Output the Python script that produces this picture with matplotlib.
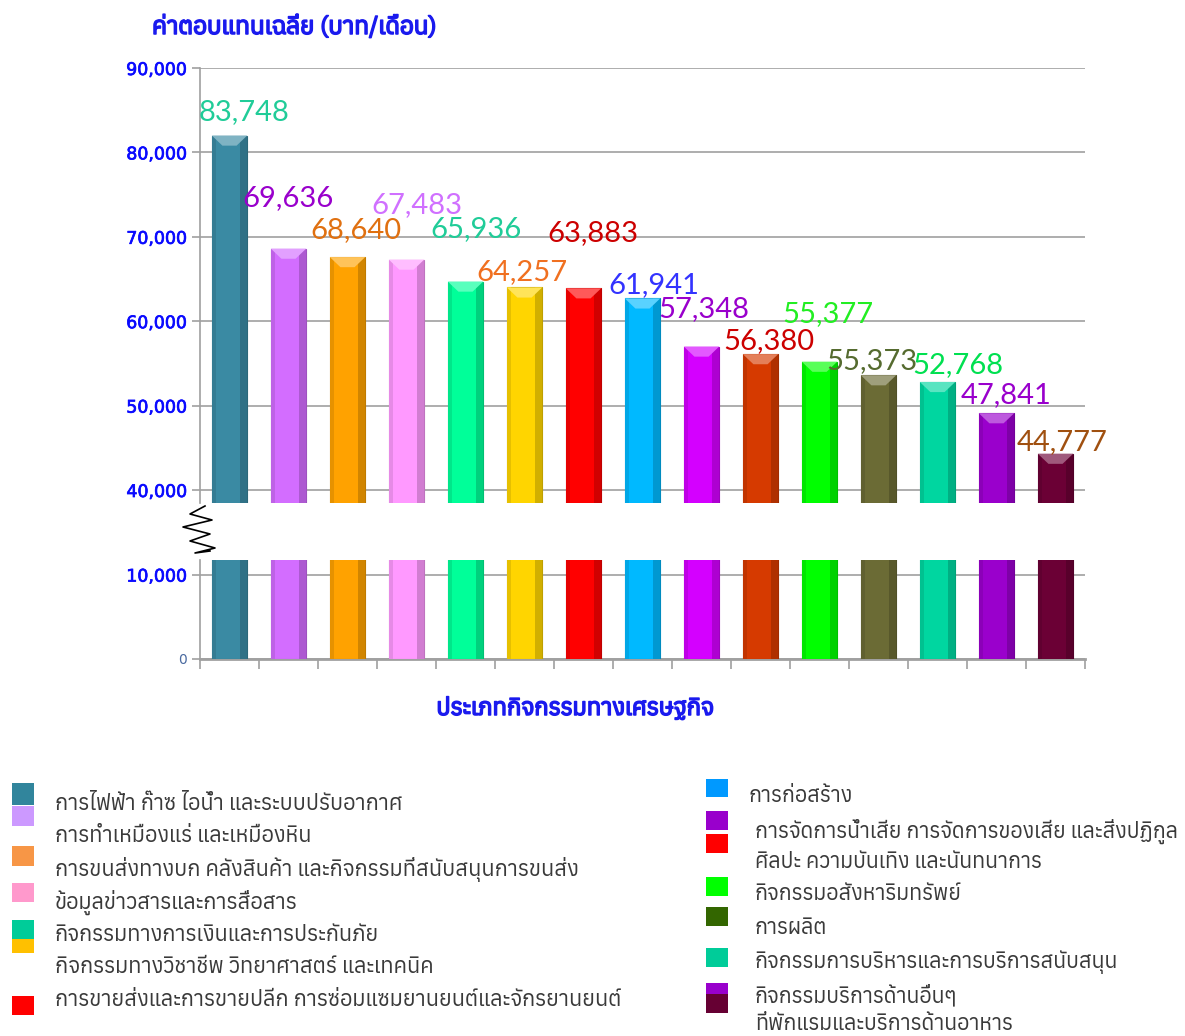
import matplotlib
matplotlib.use("Agg")
import matplotlib.pyplot as plt
import matplotlib.patheffects as pe
import numpy as np
from matplotlib import font_manager
from matplotlib.patches import Rectangle, Polygon
from matplotlib.colors import to_rgb
from fontTools.ttLib import TTFont


def find_thai_font():
    # cherche une police installée qui contient les glyphes thaï
    found = []
    for f in font_manager.fontManager.ttflist:
        try:
            tt = TTFont(f.fname, fontNumber=0, lazy=True)
            cmap = tt.getBestCmap()
            if cmap and 0x0E01 in cmap and 0x0E33 in cmap:
                found.append(f.name)
        except Exception:
            continue
    return sorted(set(found))


thai_fonts = find_thai_font()
THAI = thai_fonts[0] if thai_fonts else "DejaVu Sans"
plt.rcParams["font.family"] = [THAI, "DejaVu Sans"]

# ---------------- données ----------------
bar_heights = [82000, 68600, 67600, 67300, 64700, 64000, 63900, 62700,
               57000, 56100, 55200, 53600, 52800, 49100, 44300]
value_labels = ["83,748", "69,636", "68,640", "67,483", "65,936", "64,257", "63,883",
                "61,941", "57,348", "56,380", "55,377", "55,373", "52,768", "47,841", "44,777"]
bar_colors = ["#3a8aa3", "#d36dff", "#ffa200", "#ff99ff", "#00ff99", "#ffd500", "#ff0000",
              "#00b9ff", "#d400ff", "#d63a00", "#00ff00", "#6b6b35", "#00d6a0", "#9a00cc", "#6b0035"]
label_colors = ["#20cc98", "#9900cc", "#e07010", "#d070ff", "#20cc98", "#f07020", "#cc0000",
                "#3333ff", "#9900cc", "#cc0000", "#22ee22", "#556b2f", "#00e050", "#9900cc", "#a05010"]
# décalage des étiquettes (pixels) par rapport au haut de la barre
label_dx = [15, 0, 8, 10, 11, -3, 9, 11, 2, 8, 8, -7, 20, 10, 7]
label_dy = [23, 51, 27, 55, 52, 15, 55, 13, 37, 13, 48, 14, 17, 18, 12]

y_title = "ค่าตอบแทนเฉลี่ย (บาท/เดือน)"
x_title = "ประเภทกิจกรรมทางเศรษฐกิจ"

legend_left = ["การไฟฟ้า ก๊าซ ไอน้ำ และระบบปรับอากาศ",
               "การทำเหมืองแร่ และเหมืองหิน",
               "การขนส่งทางบก คลังสินค้า และกิจกรรมที่สนับสนุนการขนส่ง",
               "ข้อมูลข่าวสารและการสื่อสาร",
               "กิจกรรมทางการเงินและการประกันภัย",
               "กิจกรรมทางวิชาชีพ วิทยาศาสตร์ และเทคนิค",
               "การขายส่งและการขายปลีก การซ่อมแซมยานยนต์และจักรยานยนต์"]
legend_right = ["การก่อสร้าง",
                "การจัดการน้ำเสีย การจัดการของเสีย และสิ่งปฏิกูล",
                "ศิลปะ ความบันเทิง และนันทนาการ",
                "กิจกรรมอสังหาริมทรัพย์",
                "การผลิต",
                "กิจกรรมการบริหารและการบริการสนับสนุน",
                "กิจกรรมบริการด้านอื่นๆ",
                "ที่พักแรมและบริการด้านอาหาร"]
sq_left_colors = ["#31859c", "#cc99ff", "#f79646", "#ff99cc", "#00cc99", "#ffc000", "#ff0000"]
sq_right_colors = ["#0099ff", "#9900cc", "#ff0000", "#00ff00", "#336600", "#00cc99", "#9900cc", "#660033"]

W, H = 1185, 1036
fig = plt.figure(figsize=(W / 100, H / 100), dpi=100)


def fx(px):
    return px / W


def fy(py):
    return 1 - py / H


x_left, x_right = 200, 1085
ax_top = fig.add_axes([fx(x_left), fy(503), fx(x_right - x_left), fy(68) - fy(503)])
ax_bot = fig.add_axes([fx(x_left), fy(659), fx(x_right - x_left), fy(560) - fy(659)])

n = len(bar_heights)
x = np.arange(n)
bw = 0.6
grid_c = "#a0a0a0"
tick_blue = "#0a0aff"


def lighten(c, a):
    r = np.array(to_rgb(c))
    return tuple(r + (1 - r) * a)


def darken(c, a):
    return tuple(np.array(to_rgb(c)) * (1 - a))


for ax in (ax_top, ax_bot):
    ax.bar(x, bar_heights, width=bw, color=bar_colors, zorder=3,
           edgecolor=[darken(c, 0.25) for c in bar_colors], linewidth=0.8)
    # ombre sur les bords
    ax.bar(x + bw * 0.40, bar_heights, width=bw * 0.2, color=[darken(c, 0.18) for c in bar_colors],
           zorder=3, linewidth=0)
    ax.bar(x - bw * 0.44, bar_heights, width=bw * 0.12, color=[darken(c, 0.10) for c in bar_colors],
           zorder=3, linewidth=0)
    ax.set_xlim(-0.5, n - 0.5)
    ax.grid(axis="y", color=grid_c, linewidth=1.2, zorder=0)
    ax.set_axisbelow(True)
    for s in ("top", "right"):
        ax.spines[s].set_visible(False)
    ax.spines["left"].set_color(grid_c)
    ax.spines["left"].set_linewidth(1.2)
    ax.tick_params(axis="y", colors=grid_c, labelcolor=tick_blue, length=6, width=1.2,
                   labelsize=12.5)

# biseau sur le haut des barres
bev = 1200
for i, h in enumerate(bar_heights):
    c = bar_colors[i]
    x0, x1 = i - bw / 2, i + bw / 2
    ax_top.add_patch(Polygon([(x0, h), (x1, h), (x1 - bw * 0.3, h - bev), (x0 + bw * 0.3, h - bev)],
                             closed=True, facecolor=lighten(c, 0.35), edgecolor="none", zorder=4))

ax_top.set_ylim(38460, 90000)
ax_top.set_yticks(np.arange(40000, 90001, 10000))
ax_top.set_yticklabels([f"{v:,}" for v in range(40000, 90001, 10000)])
ax_top.spines["bottom"].set_visible(False)
ax_top.set_xticks([])

ax_bot.set_ylim(0, 11730)
ax_bot.set_yticks([0, 10000])
ax_bot.set_yticklabels(["0", "10,000"])
ax_bot.spines["bottom"].set_color(grid_c)
ax_bot.spines["bottom"].set_linewidth(2)
ax_bot.set_xticks(np.arange(-0.5, n, 1.0))
ax_bot.set_xticklabels([])
ax_bot.tick_params(axis="x", colors=grid_c, length=7, width=1.2)

for ax in (ax_top, ax_bot):
    for t in ax.get_yticklabels():
        t.set_fontfamily("DejaVu Sans")
        t.set_path_effects([pe.withStroke(linewidth=0.5, foreground=tick_blue)])
zero_lab = ax_bot.get_yticklabels()[0]
zero_lab.set_color("#4a6aa0")
zero_lab.set_fontsize(10)
zero_lab.set_path_effects([])

# étiquettes de valeurs
for i, (h, lab) in enumerate(zip(bar_heights, value_labels)):
    ax_top.annotate(lab, (i, h), xytext=(label_dx[i] * 0.72, label_dy[i] * 0.72),
                    textcoords="offset points", ha="center", va="center", fontsize=21,
                    color=label_colors[i], family=["Lato", "DejaVu Sans"], zorder=6,
                    annotation_clip=False)

# marque de rupture
zz_x = [fx(v) for v in [205, 190, 212, 183, 210, 190, 215, 195, 210]]
zz_y = [fy(v) for v in [506, 514, 520, 527, 534, 541, 548, 553, 551]]
fig.lines.append(plt.Line2D(zz_x, zz_y, transform=fig.transFigure, color="black", linewidth=1.2))

# titres
bold = [pe.withStroke(linewidth=1.1, foreground="#1a1aee")]
fig.text(fx(152), fy(27), y_title, ha="left", va="center", fontsize=17.5, color="#1a1aee",
         path_effects=bold)
fig.text(fx(575), fy(708), x_title, ha="center", va="center", fontsize=17, color="#1a1aee",
         path_effects=bold)

# légende
leg_c = "#3a3a3a"
left_sq = [(783, 805), (806, 826), (846, 866), (883, 902), (920, 939), (939, 953), (996, 1015)]
left_txt_y = [804, 836, 869, 902, 935, 967, 1000]
for (y0, y1), c in zip(left_sq, sq_left_colors):
    fig.patches.append(Rectangle((fx(12), fy(y1)), fx(22), fy(y0) - fy(y1), transform=fig.transFigure,
                                 facecolor=c, edgecolor="none"))
for ty, t in zip(left_txt_y, legend_left):
    fig.text(fx(55), fy(ty), t, ha="left", va="center", fontsize=15.6, color=leg_c)

right_sq = [(779, 797), (811, 830), (834, 853), (877, 896), (907, 926), (948, 967), (983, 1001), (994, 1013)]
right_txt_y = [797, 831, 863, 895, 929, 962, 995, 1025]
right_txt_x = [748, 755, 755, 755, 755, 755, 755, 755]
for (y0, y1), c in zip(right_sq, sq_right_colors):
    fig.patches.append(Rectangle((fx(706), fy(y1)), fx(22), fy(y0) - fy(y1), transform=fig.transFigure,
                                 facecolor=c, edgecolor="none"))
for tx, ty, t in zip(right_txt_x, right_txt_y, legend_right):
    fig.text(fx(tx), fy(ty), t, ha="left", va="center", fontsize=15.4, color=leg_c)

fig.savefig("out.png", dpi=100)
